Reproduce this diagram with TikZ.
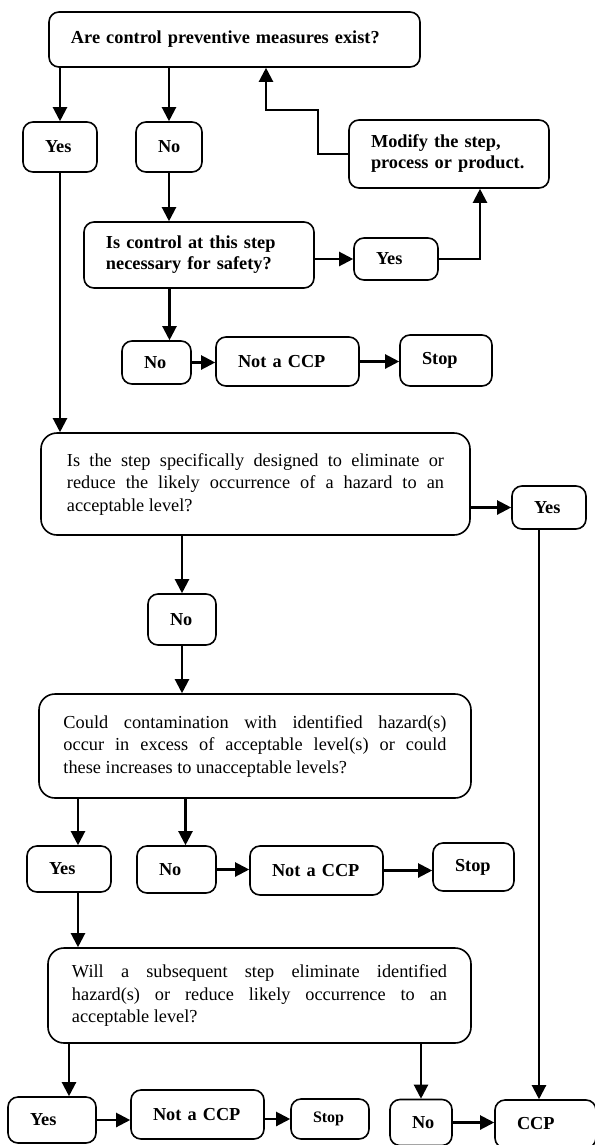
\documentclass[tikz,border=0pt]{standalone}
\usepackage{fontspec}
\setmainfont{Liberation Serif}
\usetikzlibrary{arrows.meta}
\tolerance=10000
\hbadness=10000
\begin{document}
\begin{tikzpicture}[x=1bp,y=-1bp,
  sbox/.style 2 args={draw, line width=1.6bp, rounded corners=10bp,
    text width=#1, minimum height=#2, inner xsep=22bp, inner ysep=0pt,
    align=left, font=\fontsize{18.3bp}{21bp}\selectfont\bfseries},
  bbox/.style 2 args={draw, line width=1.6bp, rounded corners=16bp,
    text width=#1, minimum height=#2, inner ysep=0pt,
    align=justify, font=\fontsize{18.3bp}{22.5bp}\selectfont},
  arr/.style={line width=2.2bp, -{Triangle[length=14bp,width=14bp]}}]
\useasboundingbox (0,0) rectangle (595,1145);

% nodes
\node[sbox={327bp}{55bp}] (top) at (234.5,39.5) {Are control preventive measures exist?};
\node[sbox={30bp}{50bp}] (yes1) at (60,147) {Yes};
\node[sbox={22bp}{50bp}] (no1) at (169,147) {No};
\node[sbox={156bp}{68bp}] (modify) at (449,154) {Modify the step,\\process or product.};
\node[sbox={186bp}{66bp}] (isctrl) at (199,255) {Is control at this step\\necessary for safety?};
\node[sbox={40bp}{42bp}] (yes2) at (396,259) {Yes};
\node[sbox={25bp}{43bp}] (no2) at (156.5,362.5) {No};
\node[sbox={99bp}{49bp}] (notccp1) at (287.5,361.5) {Not a CCP};
\node[sbox={48bp}{51bp}] (stop1) at (446,360.5) {Stop};

\node[bbox={377bp}{102bp}, inner xsep=26bp] (box1) at (255.5,484)
  {Is the step specifically designed to eliminate or\linebreak reduce the likely occurrence of a hazard to an\linebreak acceptable level?};
\node[sbox={30bp}{43bp}] (yes3) at (549,507.5) {Yes};
\node[sbox={24bp}{51bp}] (no3) at (182,619.5) {No};

\node[bbox={383bp}{104bp}, inner xsep=24.5bp] (box2) at (255,746)
  {Could contamination with identified hazard(s)\linebreak occur in excess of acceptable level(s) or could\linebreak these increases to unacceptable levels?};
\node[sbox={40bp}{46bp}] (yes4) at (69,869) {Yes};
\node[sbox={35bp}{47bp}] (no4) at (176.5,869.5) {No};
\node[sbox={89bp}{49bp}] (notccp2) at (316.5,870.5) {Not a CCP};
\node[sbox={37bp}{48bp}] (stop2) at (473.5,867) {Stop};

\node[bbox={375bp}{95bp}, inner xsep=24bp] (box3) at (259.5,995.5)
  {Will a subsequent step eliminate identified\linebreak hazard(s) or reduce likely occurrence to an\linebreak acceptable level?};
\node[sbox={44bp}{46bp}] (yes5) at (52,1120) {Yes};
\node[sbox={89bp}{49bp}] (notccp3) at (197.5,1114.5) {Not a CCP};
\node[sbox={34bp}{40bp}, font=\fontsize{16bp}{19bp}\selectfont\bfseries] (stop3) at (330,1119) {Stop};
\node[sbox={18bp}{46bp}] (no5) at (421,1122.5) {No};
\node[sbox={57bp}{48bp}] (ccp) at (545.5,1124) {CCP};

% helper coordinates
\coordinate (fb) at (318,110);
\coordinate (fbx) at (266,0);

% connectors
\draw[arr] (top.south -| yes1.north) -- (yes1.north);
\draw[arr] (top.south -| no1.north) -- (no1.north);
\draw[arr] (no1.south) -- (isctrl.north -| no1.south);
\draw[arr] (isctrl.east |- yes2.west) -- (yes2.west);
\draw[arr] (yes2.east) -| ([xshift=31bp]modify.south);
\draw[arr] (modify.west) -| (fb) -| (top.south -| fbx);
\draw[arr] ([xshift=13bp]no2.north |- isctrl.south) -- ([xshift=13bp]no2.north);
\draw[arr] (no2.east) -- (notccp1.west |- no2.east);
\draw[arr] (notccp1.east) -- (stop1.west |- notccp1.east);
\draw[arr] (yes1.south) -- (box1.north -| yes1.south);

\draw[arr] (box1.east |- yes3.west) -- (yes3.west);
\draw[arr] (box1.south -| no3.north) -- (no3.north);
\draw[arr] (no3.south) -- (box2.north -| no3.south);
\draw[arr] ([xshift=-10bp]yes3.south) -- ([xshift=-10bp]yes3.south |- ccp.north);

\draw[arr] ([xshift=9bp]yes4.north |- box2.south) -- ([xshift=9bp]yes4.north);
\draw[arr] ([xshift=9bp]no4.north |- box2.south) -- ([xshift=9bp]no4.north);
\draw[arr] (no4.east) -- (notccp2.west |- no4.east);
\draw[arr] (notccp2.east) -- (stop2.west |- notccp2.east);

\draw[arr] ([xshift=9bp]yes4.south) -- ([xshift=9bp]yes4.south |- box3.north);
\draw[arr] ([xshift=17bp]yes5.north |- box3.south) -- ([xshift=17bp]yes5.north);
\draw[arr] (yes5.east) -- (notccp3.west |- yes5.east);
\draw[arr] (notccp3.east |- stop3.west) -- (stop3.west);
\draw[arr] (box3.south -| no5.north) -- (no5.north);
\draw[arr] (no5.east) -- (ccp.west |- no5.east);
\end{tikzpicture}
\end{document}
